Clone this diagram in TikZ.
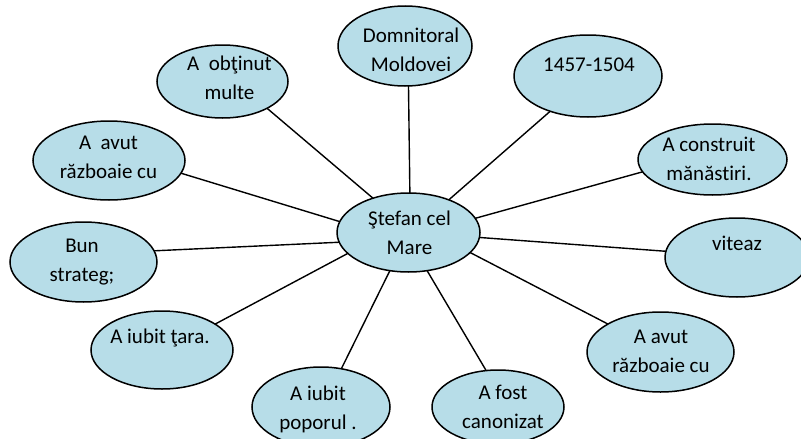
\documentclass[tikz,border=0pt]{standalone}
\usepackage{fontspec}
\setmainfont{Carlito}[RawFeature={-liga}]
\usetikzlibrary{shapes.geometric,backgrounds}
\definecolor{bubfill}{HTML}{B7DDE8}
\begin{document}
\begin{tikzpicture}[x=1pt,y=-1pt,
  bub/.style={ellipse, draw=black, line width=1.5pt, fill=bubfill, inner sep=0pt, outer sep=0pt},
  txt/.style={align=center, font=\fontsize{21}{29}\selectfont, inner sep=0pt, text=black},
  link/.style={draw=black, line width=1.4pt}]
\useasboundingbox (0,0) rectangle (801,439);
\clip (0,0) rectangle (801,439);
% bubbles
\node[bub, minimum width=143pt, minimum height=79pt] (c) at (408.5,232.5) {};
\node[bub, minimum width=134pt, minimum height=80pt] (d1) at (405,46) {};
\node[bub, minimum width=148pt, minimum height=82pt] (d2) at (588,76) {};
\node[bub, minimum width=149pt, minimum height=71pt] (d3) at (712.5,159.5) {};
\node[bub, minimum width=144pt, minimum height=79pt] (d4) at (737,257.5) {};
\node[bub, minimum width=147pt, minimum height=80pt] (d5) at (660.5,352) {};
\node[bub, minimum width=132pt, minimum height=74pt] (d6) at (498,407) {};
\node[bub, minimum width=138pt, minimum height=80pt] (d7) at (321,407) {};
\node[bub, minimum width=142pt, minimum height=78pt] (d8) at (162,350) {};
\node[bub, minimum width=147pt, minimum height=80pt] (d9) at (83.5,262) {};
\node[bub, minimum width=152pt, minimum height=79pt] (d10) at (109,160.5) {};
\node[bub, minimum width=131pt, minimum height=73pt] (d11) at (222.5,81.5) {};
% connectors
\begin{scope}[on background layer]
\draw[link] (c.88) -- (d1.-85.5);
\draw[link] (c.39.2) -- (d2.-137.2);
\draw[link] (c.12.7) -- (d3.-170);
\draw[link] (c.-4.4) -- (d4.175.6);
\draw[link] (c.-18.2) -- (d5.152.4);
\draw[link] (c.-64.5) -- (d6.108.9);
\draw[link] (c.-116.2) -- (d7.62.2);
\draw[link] (c.-161.3) -- (d8.26.1);
\draw[link] (c.-172.6) -- (d9.9.4);
\draw[link] (c.171.8) -- (d10.-10.4);
\draw[link] (c.136.6) -- (d11.-31.8);
\end{scope}
% texts
\node[txt] (tc) at (409.5,232.5) {Ştefan cel\\Mare};
\node[txt] (t1) at (411,50) {Domnitoral\\Moldovei};
\node[txt] (t2) at (589,65) {1457-1504};
\node[txt] (t3) at (709,159) {A construit\\mănăstiri.};
\node[txt] (t4) at (737,243) {viteaz};
\node[txt] (t5) at (661,351) {A avut\\războaie cu};
\node[txt] (t6) at (503,407) {A fost\\canonizat};
\node[txt] (t7) at (318,409) {A iubit\\poporul .};
\node[txt] (t8) at (160,338) {A iubit ţara.};
\node[txt] (t9) at (82,262.5) {Bun\\strateg;};
\node[txt] (t10) at (108.5,157.5) {A~~avut\\războaie cu};
\node[txt] (t11) at (229.5,77.5) {A~~obţinut\\multe};
\end{tikzpicture}
\end{document}
